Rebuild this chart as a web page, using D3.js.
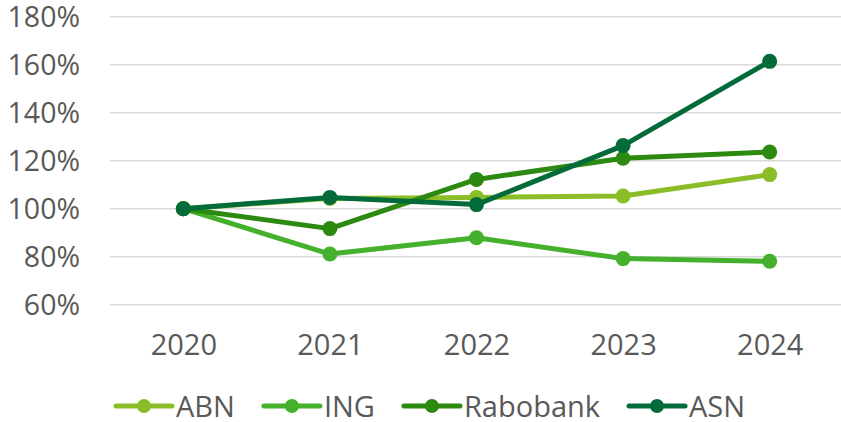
<!DOCTYPE html>
<html>
<head>
<meta charset="utf-8">
<script src="https://cdn.jsdelivr.net/npm/d3@7"></script>
<style>
  html, body { margin: 0; padding: 0; background: #fff; }
  svg { display: block; }
  text { font-family: "Open Sans", sans-serif; fill: #595959; }
</style>
</head>
<body>
<svg id="chart" width="841" height="422"></svg>
<script>
const years = ["2020", "2021", "2022", "2023", "2024"];
const seriesNames = ["ABN", "ING", "Rabobank", "ASN"];
const abn = [100, 104.3, 104.7, 105.3, 114.2];
const ing = [100, 81.1, 87.9, 79.2, 78.1];
const rabobank = [100, 91.7, 112.2, 121.0, 123.6];
const asn = [100, 104.7, 101.7, 126.3, 161.4];
const yTicks = [60, 80, 100, 120, 140, 160, 180];
const colors = ["#8ABD27", "#45B02C", "#2B8A0F", "#036B3A"];

const series = [abn, ing, rabobank, asn].map((vals, i) => ({
  name: seriesNames[i], color: colors[i],
  values: vals.map((v, j) => ({ year: years[j], value: v }))
}));

const svg = d3.select("#chart");
const x = d3.scalePoint().domain(years).range([110, 843]).padding(0.5);
const y = d3.scaleLinear().domain([60, 180]).range([304.7, 16.7]);
const FONT = "Open Sans";

// gridlines
svg.append("g").selectAll("line").data(yTicks).join("line")
  .attr("x1", 110).attr("x2", 841)
  .attr("y1", d => y(d)).attr("y2", d => y(d))
  .attr("stroke", "#D9D9D9").attr("stroke-width", 1.5);

// y axis labels
const yAxis = d3.axisLeft(y).tickValues(yTicks).tickFormat(d => d + "%").tickSize(0).tickPadding(0);
const yg = svg.append("g").attr("transform", "translate(80,0)").call(yAxis);
yg.select(".domain").remove();
yg.selectAll("text").attr("font-size", 28.5).attr("font-family", FONT)
  .attr("fill", "#595959").attr("dy", "0.34em");

// x axis labels
const xAxis = d3.axisBottom(x).tickSize(0).tickPadding(0);
const xg = svg.append("g").attr("transform", "translate(0,355)").call(xAxis);
xg.select(".domain").remove();
xg.selectAll("text").attr("font-size", 29).attr("font-family", FONT)
  .attr("fill", "#595959").attr("dy", 0).attr("y", 0);

// lines
const line = d3.line().x(d => x(d.year)).y(d => y(d.value));
const sg = svg.append("g").selectAll("g").data(series).join("g");
sg.append("path").attr("d", d => line(d.values))
  .attr("fill", "none").attr("stroke", d => d.color)
  .attr("stroke-width", 5).attr("stroke-linejoin", "round").attr("stroke-linecap", "round");
sg.selectAll("circle").data(d => d.values.map(v => ({...v, color: d.color}))).join("circle")
  .attr("cx", d => x(d.year)).attr("cy", d => y(d.value)).attr("r", 7.5)
  .attr("fill", d => d.color);

// legend
const lg = svg.append("g");
let lx = 116;
const ly = 406;
series.forEach(s => {
  const g = lg.append("g").attr("transform", `translate(${lx},0)`);
  g.append("line").attr("x1", 0).attr("x2", 56).attr("y1", ly).attr("y2", ly)
    .attr("stroke", s.color).attr("stroke-width", 5).attr("stroke-linecap", "round");
  g.append("circle").attr("cx", 28).attr("cy", ly).attr("r", 7).attr("fill", s.color);
  const t = g.append("text").attr("x", 60).attr("y", 416.5).attr("font-size", 29)
    .attr("font-family", FONT).text(s.name);
  const w = t.node().getComputedTextLength();
  lx += 60 + w + 29;
});
</script>
</body>
</html>
